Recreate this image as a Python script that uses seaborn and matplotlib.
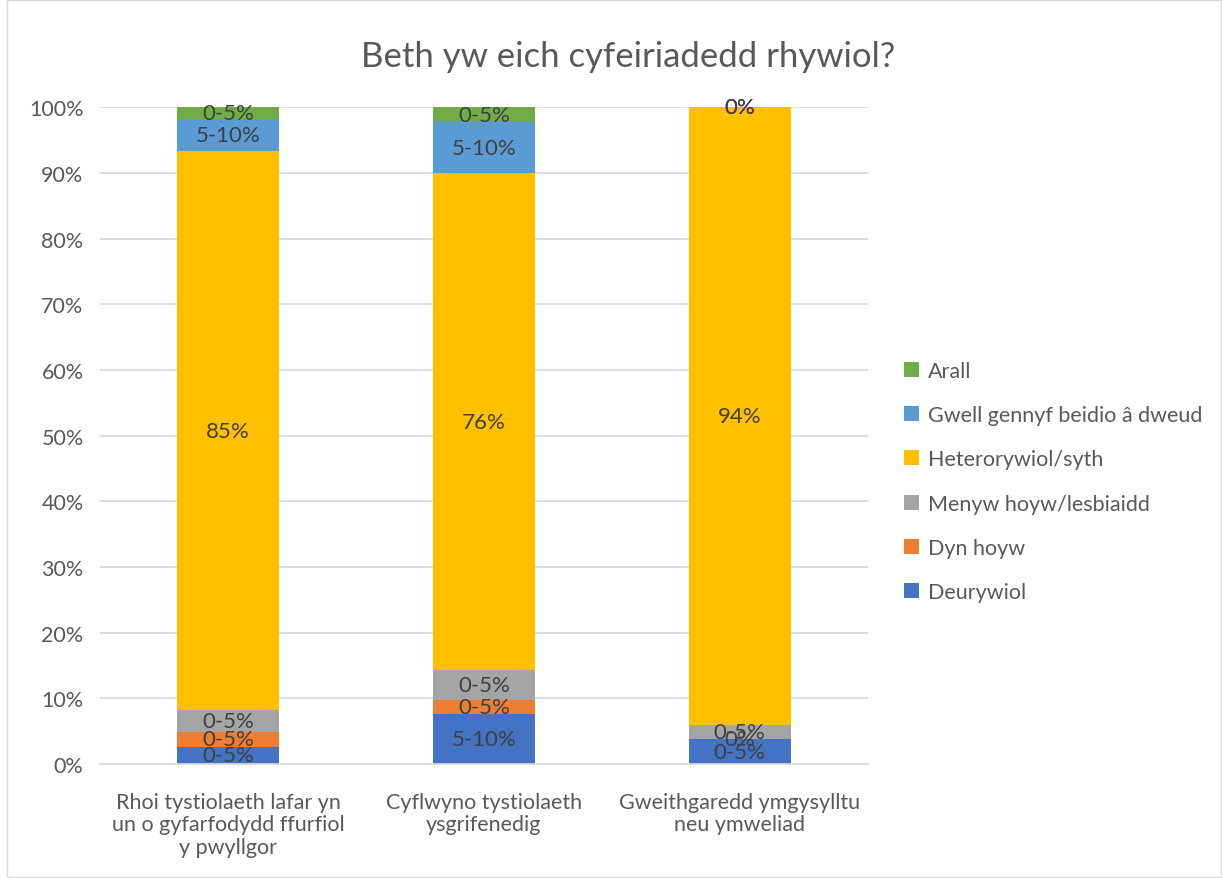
import matplotlib
matplotlib.use("Agg")
import matplotlib.pyplot as plt
import seaborn as sns
import numpy as np
from matplotlib.patches import Rectangle

# categories (x axis)
categories = [
    "Rhoi tystiolaeth lafar yn\nun o gyfarfodydd ffurfiol\ny pwyllgor",
    "Cyflwyno tystiolaeth\nysgrifenedig",
    "Gweithgaredd ymgysylltu\nneu ymweliad",
]

# series, bottom to top (share of respondents, %)
series_names = ["Deurywiol", "Dyn hoyw", "Menyw hoyw/lesbiaidd",
                "Heterorywiol/syth", "Gwell gennyf beidio â dweud", "Arall"]
deurywiol = [2.6, 7.6, 3.8]
dyn_hoyw = [2.3, 2.2, 0.0]
menyw_hoyw = [3.3, 4.5, 2.1]
hetero = [85.1, 75.7, 94.1]
gwell = [5.0, 7.7, 0.0]
arall = [1.7, 2.3, 0.0]

# labels printed on the segments
deurywiol_lbl = ["0-5%", "5-10%", "0-5%"]
dyn_hoyw_lbl = ["0-5%", "0-5%", "0%"]
menyw_hoyw_lbl = ["0-5%", "0-5%", "0-5%"]
hetero_lbl = ["85%", "76%", "94%"]
gwell_lbl = ["5-10%", "5-10%", "0%"]
arall_lbl = ["0-5%", "0-5%", "0%"]

colors = ["#4472C4", "#ED7D31", "#A5A5A5", "#FFC000", "#5B9BD5", "#70AD47"]

sns.set_style("white")
plt.rcParams["font.family"] = ["Lato", "DejaVu Sans"]
txt = "#595959"

fig = plt.figure(figsize=(12.22, 8.79), dpi=100)
ax = fig.add_axes([0.082, 0.1297, 0.628, 0.747])

values = [deurywiol, dyn_hoyw, menyw_hoyw, hetero, gwell, arall]
labels = [deurywiol_lbl, dyn_hoyw_lbl, menyw_hoyw_lbl, hetero_lbl, gwell_lbl, arall_lbl]

# stacked bars, one layer per series
bottom = np.zeros(len(categories))
for name, vals, col in zip(series_names, values, colors):
    sns.barplot(x=categories, y=vals, bottom=bottom, color=col, saturation=1,
                width=0.4, label=name, ax=ax, zorder=2, linewidth=0)
    bottom = bottom + np.array(vals)

for cont, lbl in zip(ax.containers, labels):
    ax.bar_label(cont, labels=lbl, label_type="center", fontsize=16,
                 color="#404040")

ax.set_ylim(0, 100)
ax.set_xlim(-0.5, 2.5)
ax.set_yticks(np.arange(0, 101, 10))
ax.set_yticklabels([f"{t}%" for t in range(0, 101, 10)])
ax.yaxis.grid(True, color="#d9d9d9", linewidth=1.2, zorder=0)
ax.set_axisbelow(True)
for s in ["left", "right", "top"]:
    ax.spines[s].set_visible(False)
ax.spines["bottom"].set_color("#d9d9d9")
ax.spines["bottom"].set_linewidth(1.2)
ax.tick_params(axis="both", length=0, labelsize=15.5, colors=txt)
ax.tick_params(axis="x", pad=20)
ax.tick_params(axis="y", pad=12)
for t in ax.get_xticklabels():
    t.set_linespacing(1.15)

fig.text(0.514, 0.935, "Beth yw eich cyfeiriadedd rhywiol?", fontsize=25,
         color=txt, ha="center", va="center")

handles = list(ax.containers)[::-1]
ax.legend(handles, series_names[::-1], loc="center left", bbox_to_anchor=(1.022, 0.43),
          frameon=False, fontsize=15.5, handlelength=0.7, handleheight=0.7,
          handletextpad=0.4, labelspacing=1.13, labelcolor=txt)

fig.patches.append(Rectangle((0.006, 0.001), 0.993, 0.998, transform=fig.transFigure,
                             fill=False, edgecolor="#d9d9d9", linewidth=1))

fig.savefig("out.png", dpi=100)
